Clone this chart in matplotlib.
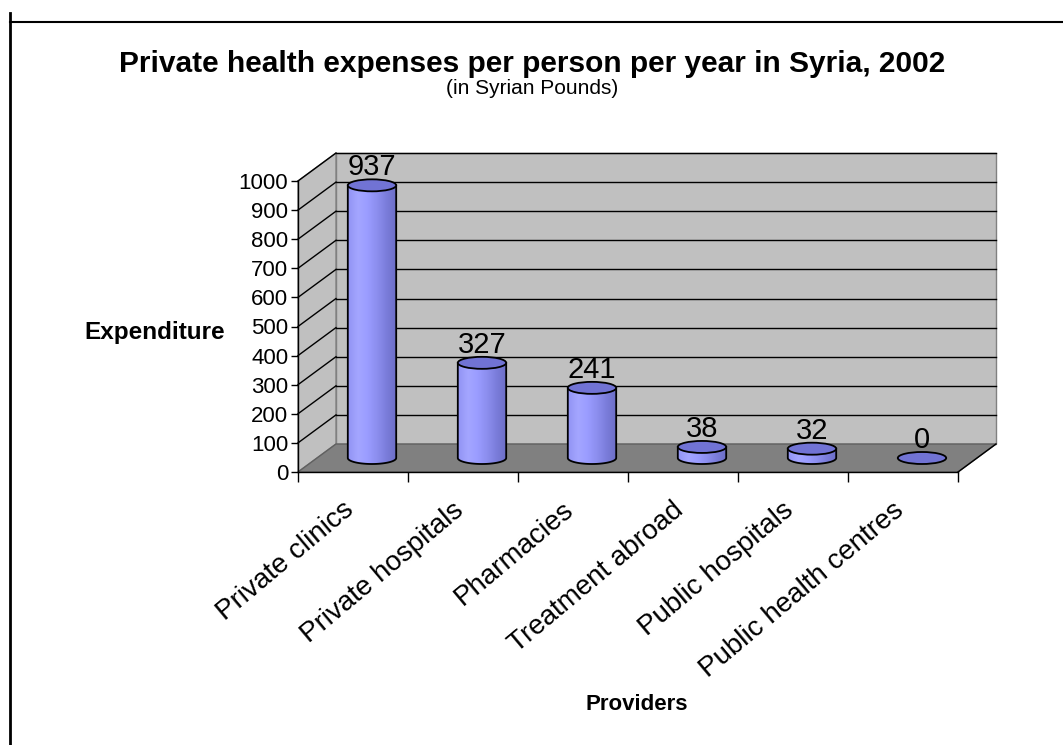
import numpy as np
import matplotlib
matplotlib.use("Agg")
import matplotlib.pyplot as plt
from matplotlib.colors import LinearSegmentedColormap
from matplotlib.lines import Line2D
from matplotlib.patches import Ellipse, PathPatch, Polygon
from matplotlib.path import Path

providers = ["Private clinics", "Private hospitals", "Pharmacies",
             "Treatment abroad", "Public hospitals", "Public health centres"]
expenditure = [937, 327, 241, 38, 32, 0]
y_ticks = [0, 100, 200, 300, 400, 500, 600, 700, 800, 900, 1000]

plt.rcParams["font.family"] = ["Liberation Sans", "DejaVu Sans"]

W, H = 1063, 745
fig = plt.figure(figsize=(W / 100, H / 100), dpi=100)

# front plane of the plot box, in pixels
X0, X1, YB, YT = 298, 958, 472, 181
ax = fig.add_axes([X0 / W, 1 - YB / H, (X1 - X0) / W, (YB - YT) / H])
n = len(providers)
ax.set_facecolor("none")

# depth of the 3-D box expressed in data units
px_x = (X1 - X0) / n
px_y = (YB - YT) / 1000
DX = 38 / px_x
DY = 28 / px_y

wall = "#C0C0C0"
floor = "#808080"
edge = "#808080"

# back wall, side wall and floor
ax.add_patch(Polygon([(DX, DY), (n + DX, DY), (n + DX, 1000 + DY), (DX, 1000 + DY)],
                     closed=True, fc=wall, ec=edge, lw=1, clip_on=False, zorder=0))
ax.add_patch(Polygon([(0, 0), (DX, DY), (DX, 1000 + DY), (0, 1000)],
                     closed=True, fc=wall, ec=edge, lw=1, clip_on=False, zorder=0))
ax.add_patch(Polygon([(0, 0), (n, 0), (n + DX, DY), (DX, DY)],
                     closed=True, fc=floor, ec="#606060", lw=1, clip_on=False, zorder=1))
ax.plot([n, n + DX], [0, DY], color="black", lw=1, clip_on=False, zorder=1)

for t in y_ticks[1:]:
    ax.plot([DX, n + DX], [t + DY, t + DY], color="black", lw=1, clip_on=False, zorder=0.5)
    ax.plot([0, DX], [t, t + DY], color="black", lw=1, clip_on=False, zorder=0.5)

# cylinders
cyl_cmap = LinearSegmentedColormap.from_list(
    "cyl", ["#9294F4", "#A4A6FF", "#9A9CFF", "#8C8EEE", "#7A7CDA", "#6C6EC6"])
bar_w = 0.44
cap_h = 12 / px_y
gradient = np.linspace(0, 1, 64).reshape(1, -1)

for i, v in enumerate(expenditure):
    cx = i + 0.5 + DX / 2
    base = DY / 2
    top = base + v
    xl, xr = cx - bar_w / 2, cx + bar_w / 2
    if v > 0:
        th = np.linspace(np.pi, 2 * np.pi, 40)
        bx = cx + bar_w / 2 * np.cos(th)
        by = base + cap_h / 2 * np.sin(th)
        verts = list(zip(bx, by)) + [(xr, top), (xl, top), (xl, base)]
        body = Path(verts, closed=True)
        im = ax.imshow(gradient, cmap=cyl_cmap, aspect="auto",
                       extent=(xl, xr, base - cap_h, top), zorder=3, clip_on=True)
        ax.add_patch(PathPatch(body, fc="none", ec="black", lw=1.3, zorder=4, clip_on=False))
        im.set_clip_path(PathPatch(body, transform=ax.transData))
    ax.add_patch(Ellipse((cx, top), bar_w, cap_h, fc="#7173D4", ec="black",
                         lw=1.3, zorder=5, clip_on=False))
    ax.text(cx, top + 35, str(v), ha="center", va="baseline", fontsize=21, zorder=6)

ax.set_xlim(0, n)
ax.set_ylim(0, 1000)

# axes lines and ticks
for s in ("top", "right"):
    ax.spines[s].set_visible(False)
for s in ("left", "bottom"):
    ax.spines[s].set_linewidth(1)
    ax.spines[s].set_zorder(2)
ax.set_yticks(y_ticks)
ax.tick_params(axis="y", length=5, width=1, pad=2, labelsize=16)
ax.set_xticks(range(n + 1))
ax.set_xticklabels([])
ax.tick_params(axis="x", length=7, width=1)

for i, name in enumerate(providers):
    ax.annotate(name, xy=(i + 0.5, 0), xytext=(-8, -18), textcoords="offset points",
                rotation=40, rotation_mode="anchor", ha="right", va="top",
                fontsize=20, annotation_clip=False)

# titles
fig.text(532 / W, 1 - 64 / H, "Private health expenses per person per year in Syria, 2002",
         ha="center", va="center", fontsize=21.5, fontweight="bold")
fig.text(532 / W, 1 - 89 / H, "(in Syrian Pounds)", ha="center", va="center", fontsize=15)
fig.text(155 / W, 1 - 333 / H, "Expenditure", ha="center", va="center",
         fontsize=17.5, fontweight="bold")
fig.text(637 / W, 1 - 704 / H, "Providers", ha="center", va="center",
         fontsize=16, fontweight="bold")

# frame lines around the chart area
fig.add_artist(Line2D([10 / W, 1], [1 - 22 / H, 1 - 22 / H], color="black", lw=1.5))
fig.add_artist(Line2D([10 / W, 10 / W], [0, 1 - 13 / H], color="black", lw=2))

fig.savefig("out.png", dpi=100)
